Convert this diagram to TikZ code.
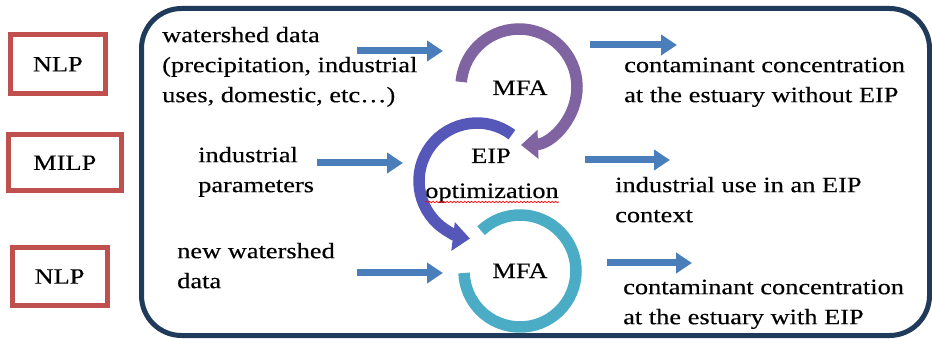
\documentclass[tikz,border=0pt]{standalone}
\usepackage{fontspec}
\setmainfont{Liberation Serif}[FakeStretch=1.2,FakeBold=0.3]
\usetikzlibrary{arrows.meta,decorations.pathmorphing}
\definecolor{navy}{HTML}{203A5C}
\definecolor{boxred}{HTML}{C0504D}
\definecolor{arrblue}{HTML}{4A7EBB}
\definecolor{arcpurple}{HTML}{8064A2}
\definecolor{arcindigo}{HTML}{5558B8}
\definecolor{arcteal}{HTML}{4BACC6}
\begin{document}
\begin{tikzpicture}[x=1pt,y=1pt,
  every node/.style={font=\fontsize{22}{30}\selectfont},
  lpbox/.style={draw=boxred, line width=5pt, inner sep=0pt},
  txt/.style={align=left, inner sep=0pt, anchor=north west},
  ctr/.style={inner sep=0pt, anchor=base},
  flow/.style={arrblue, line width=7pt, -{Triangle[width=20pt,length=16pt]}},
  ring/.style={line width=11.5pt},
  ringtip/.style={-{Triangle[width=28pt,length=17pt]}}]
\useasboundingbox (0,0) rectangle (932,-339);
% outer frame
\draw[navy, line width=5pt, rounded corners=40pt] (141.5,-8.5) rectangle (929.5,-335.5);
% method boxes
\node[lpbox, minimum width=94.5pt, minimum height=59.5pt] (nlpA) at (57.75,-64.25) {NLP};
\node[lpbox, minimum width=112.5pt, minimum height=56.5pt] (milp) at (64.75,-162.75) {MILP};
\node[lpbox, minimum width=95pt, minimum height=57pt] (nlpB) at (59.5,-276.5) {NLP};
% input texts
\node[txt] (ws) at (162,-21) {\strut watershed data\\\strut(precipitation, industrial\\\strut uses, domestic, etc…)};
\node[txt] (ip) at (198,-141) {\strut industrial\\\strut parameters};
\node[txt] (nw) at (177,-237) {\strut new watershed\\\strut data};
% output texts
\node[txt] (o1) at (624,-51) {\strut contaminant concentration\\\strut at the estuary without EIP};
\node[txt] (o2) at (615,-171) {\strut industrial use in an EIP\\\strut context};
\node[txt] (o3) at (623,-273) {\strut contaminant concentration\\\strut at the estuary with EIP};
% rings
\draw[ring, arcteal] (520,-271) ++(134:56) arc[start angle=134, end angle=-178, radius=56];
\draw[ring, arcindigo, ringtip] (477,-181) ++(53:58) arc[start angle=53, end angle=263, radius=58];
\draw[ring, arcpurple, ringtip] (519,-87) ++(175:58) arc[start angle=175, end angle=-88, radius=58];
% ring labels
\node[ctr] (mfaA) at (520,-95) {MFA};
\node[ctr] (eip) at (491,-163) {EIP};
\node[ctr] (opt) at (492,-198) {optimization};
\node[ctr] (mfaB) at (520,-278) {MFA};
\draw[red, line width=0.7pt, decorate, decoration={snake, amplitude=0.7pt, segment length=3.5pt}]
  ([yshift=-4pt]opt.base west) -- ([yshift=-4pt]opt.base east);
% arrow end points
\coordinate (a1s) at (357,-51);  \coordinate (a1e) at (443,-51);
\coordinate (a2s) at (317,-163); \coordinate (a2e) at (403,-163);
\coordinate (a3s) at (357,-273); \coordinate (a3e) at (443,-273);
\coordinate (b1s) at (590,-45);  \coordinate (b1e) at (677,-45);
\coordinate (b2s) at (585,-160); \coordinate (b2e) at (670,-160);
\coordinate (b3s) at (607,-263); \coordinate (b3e) at (692,-263);
\draw[flow] (a1s) -- (a1e);
\draw[flow] (a2s) -- (a2e);
\draw[flow] (a3s) -- (a3e);
\draw[flow] (b1s) -- (b1e);
\draw[flow] (b2s) -- (b2e);
\draw[flow] (b3s) -- (b3e);
\end{tikzpicture}
\end{document}
